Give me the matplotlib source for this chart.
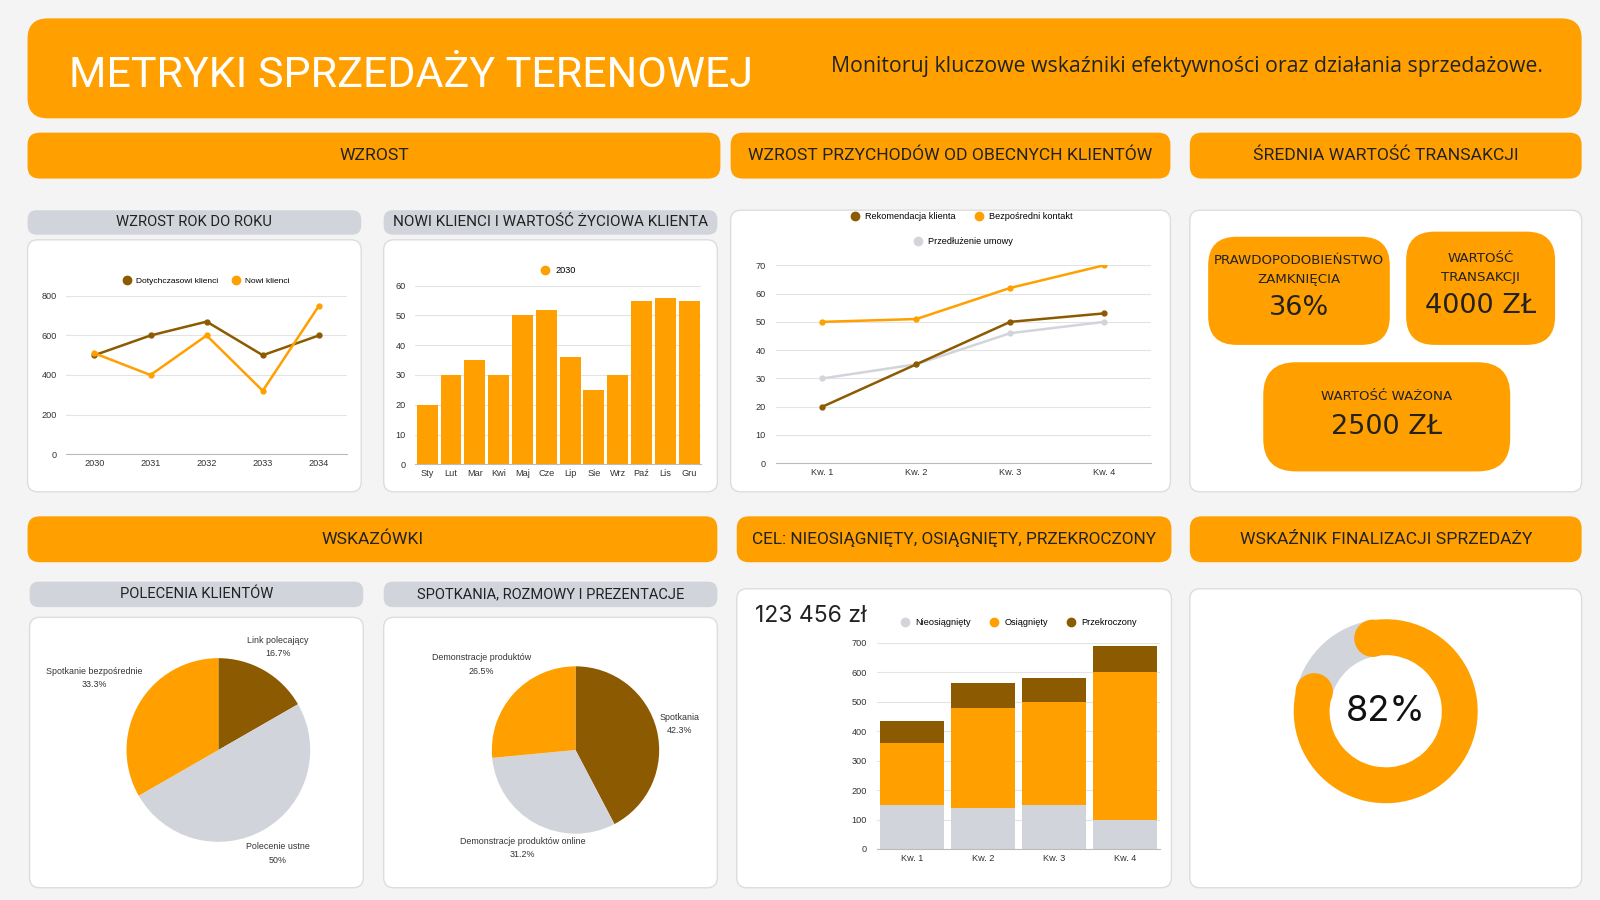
import matplotlib
matplotlib.use("Agg")
import matplotlib.pyplot as plt
from matplotlib.patches import FancyBboxPatch, Circle
from matplotlib.lines import Line2D
import numpy as np

# layout grid units (the figure itself is 1600x900 px)
W, H = 1568, 882
ORANGE = "#FFA000"
BROWN = "#8C5A00"
GRAY = "#D1D5DB"
BG = "#F4F4F4"
TXT = "#222222"

# --- data ---
years = ["2030", "2031", "2032", "2033", "2034"]
existing_clients = [500, 600, 670, 500, 600]
new_clients = [510, 400, 600, 320, 750]

months = ["Sty", "Lut", "Mar", "Kwi", "Maj", "Cze", "Lip", "Sie", "Wrz", "Paź", "Lis", "Gru"]
new_clients_2030 = [20, 30, 35, 30, 50, 52, 36, 25, 30, 55, 56, 55]

quarters = ["Kw. 1", "Kw. 2", "Kw. 3", "Kw. 4"]
rekomendacja = [20, 35, 50, 53]
bezposredni = [50, 51, 62, 70]
przedluzenie = [30, 35, 46, 50]

nieosiagniety = [150, 140, 150, 100]
osiagniety = [210, 340, 350, 500]
przekroczony = [75, 85, 80, 90]

referral_labels = ["Link polecający", "Polecenie ustne", "Spotkanie bezpośrednie"]
referral_share = [16.7, 50, 33.3]
meeting_labels = ["Spotkania", "Demonstracje produktów online", "Demonstracje produktów"]
meeting_share = [42.3, 31.2, 26.5]

close_rate = 82
kpi_probability = "36%"
kpi_deal_value = "4000 ZŁ"
kpi_weighted = "2500 ZŁ"
goal_total = "123 456 zł"

plt.rcParams["font.family"] = ["Liberation Sans", "DejaVu Sans"]

fig = plt.figure(figsize=(16, 9), dpi=100)
fig.patch.set_facecolor(BG)
bg = fig.add_axes([0, 0, 1, 1])
bg.set_xlim(0, W)
bg.set_ylim(H, 0)
bg.axis("off")


def box(x0, y0, x1, y1, color, r=12, edge="none"):
    bg.add_patch(FancyBboxPatch((x0, y0), x1 - x0, y1 - y0,
                                boxstyle=f"round,pad=0,rounding_size={r}",
                                fc=color, ec=edge, lw=1))


def rect(x0, y0, x1, y1):
    return [x0 / W, 1 - y1 / H, (x1 - x0) / W, (y1 - y0) / H]


def banner(x0, y0, x1, y1, text, color=ORANGE, size=12.6, r=12):
    box(x0, y0, x1, y1, color, r)
    bg.text((x0 + x1) / 2, (y0 + y1) / 2, text, ha="center", va="center",
            fontsize=size, color=TXT, family=["Roboto", "DejaVu Sans"])


def card(x0, y0, x1, y1):
    box(x0, y0, x1, y1, "white", 10, edge="#DDDDDD")


def style(ax, size=6.6):
    ax.set_facecolor("none")
    for s in ["top", "right", "left"]:
        ax.spines[s].set_visible(False)
    ax.spines["bottom"].set_color("#BBBBBB")
    ax.tick_params(length=0, labelsize=size, colors="#333333")
    ax.tick_params(axis="y", pad=7)
    ax.yaxis.grid(True, color="#E3E3E3", lw=0.8)
    ax.set_axisbelow(True)


def dot(color):
    return Line2D([], [], marker="o", ls="", color=color, markersize=6)


# --- header ---
box(27, 18, 1550, 116, ORANGE, 20)
bg.text(68, 74, "METRYKI SPRZEDAŻY TERENOWEJ", color="white", fontsize=31,
        va="center", ha="left", family=["Roboto", "DejaVu Sans"])
bg.text(1512, 65, "Monitoruj kluczowe wskaźniki efektywności oraz działania sprzedażowe.",
        color=TXT, fontsize=15.3, va="center", ha="right", family=["Open Sans", "DejaVu Sans"])

# --- section banners ---
banner(27, 130, 706, 175, "WZROST")
banner(716, 130, 1147, 175, "WZROST PRZYCHODÓW OD OBECNYCH KLIENTÓW")
banner(1166, 130, 1550, 175, "ŚREDNIA WARTOŚĆ TRANSAKCJI")
banner(27, 506, 703, 551, "WSKAZÓWKI")
banner(722, 506, 1148, 551, "CEL: NIEOSIĄGNIĘTY, OSIĄGNIĘTY, PRZEKROCZONY", size=12.4)
banner(1166, 506, 1550, 551, "WSKAŹNIK FINALIZACJI SPRZEDAŻY")

banner(27, 206, 354, 230, "WZROST ROK DO ROKU", GRAY, 10.6, 9)
banner(376, 206, 703, 230, "NOWI KLIENCI I WARTOŚĆ ŻYCIOWA KLIENTA", GRAY, 11, 9)
banner(29, 570, 356, 595, "POLECENIA KLIENTÓW", GRAY, 10.6, 9)
banner(376, 570, 703, 595, "SPOTKANIA, ROZMOWY I PREZENTACJE", GRAY, 10.5, 9)

# --- cards ---
card(27, 235, 354, 482)
card(376, 235, 703, 482)
card(716, 206, 1147, 482)
card(1166, 206, 1550, 482)
card(29, 605, 356, 870)
card(376, 605, 703, 870)
card(722, 577, 1148, 870)
card(1166, 577, 1550, 870)

# --- chart 1: year over year ---
ax1 = fig.add_axes(rect(65, 290, 340, 445))
style(ax1)
x = np.arange(len(years))
ax1.plot(x, existing_clients, color=BROWN, lw=1.8, marker="o", ms=3.5)
ax1.plot(x, new_clients, color=ORANGE, lw=1.8, marker="o", ms=3.5)
ax1.set_xticks(x, years)
ax1.set_xlim(-0.5, len(years) - 0.5)
ax1.set_ylim(0, 800)
ax1.set_yticks(range(0, 801, 200))
ax1.legend([dot(BROWN), dot(ORANGE)], ["Dotychczasowi klienci", "Nowi klienci"],
           loc="center", bbox_to_anchor=(200 / W, 1 - 275 / H), bbox_transform=fig.transFigure,
           ncol=2, frameon=False, fontsize=6, handletextpad=0.1, columnspacing=1.2)

# --- chart 2: monthly new clients ---
ax2 = fig.add_axes(rect(407, 280, 687, 455))
style(ax2)
xm = np.arange(len(months))
ax2.bar(xm, new_clients_2030, width=0.88, color=ORANGE)
ax2.set_xticks(xm, months)
ax2.set_xlim(-0.5, len(months) - 0.5)
ax2.set_ylim(0, 60)
ax2.set_yticks(range(0, 61, 10))
ax2.legend([dot(ORANGE)], ["2030"], loc="center",
           bbox_to_anchor=(545 / W, 1 - 265 / H), bbox_transform=fig.transFigure,
           frameon=False, fontsize=6.6, handletextpad=0.1)

# --- chart 3: revenue growth from existing clients ---
ax3 = fig.add_axes(rect(760, 260, 1128, 454))
style(ax3)
xq = np.arange(len(quarters))
ax3.plot(xq, przedluzenie, color=GRAY, lw=1.8, marker="o", ms=3.5)
ax3.plot(xq, rekomendacja, color=BROWN, lw=1.8, marker="o", ms=3.5)
ax3.plot(xq, bezposredni, color=ORANGE, lw=1.8, marker="o", ms=3.5)
ax3.set_xticks(xq, quarters)
ax3.set_xlim(-0.5, len(quarters) - 0.5)
ax3.set_ylim(0, 70)
ax3.set_yticks(range(0, 71, 10))
leg = ax3.legend([dot(BROWN), dot(ORANGE)], ["Rekomendacja klienta", "Bezpośredni kontakt"],
                 loc="center", bbox_to_anchor=(940 / W, 1 - 212 / H), bbox_transform=fig.transFigure,
                 ncol=2, frameon=False, fontsize=6.6, handletextpad=0.1, columnspacing=1.5)
ax3.add_artist(leg)
ax3.legend([dot(GRAY)], ["Przedłużenie umowy"], loc="center",
           bbox_to_anchor=(942 / W, 1 - 237 / H), bbox_transform=fig.transFigure,
           frameon=False, fontsize=6.6, handletextpad=0.1)

# --- chart 4: goal stacked bars ---
ax4 = fig.add_axes(rect(859, 630, 1137, 832))
style(ax4)
b1 = np.array(nieosiagniety)
b2 = b1 + np.array(osiagniety)
ax4.bar(xq, nieosiagniety, width=0.9, color=GRAY)
ax4.bar(xq, osiagniety, width=0.9, bottom=b1, color=ORANGE)
ax4.bar(xq, przekroczony, width=0.9, bottom=b2, color=BROWN)
ax4.set_xticks(xq, quarters)
ax4.set_xlim(-0.5, len(quarters) - 0.5)
ax4.set_ylim(0, 700)
ax4.set_yticks(range(0, 701, 100))
ax4.legend([dot(GRAY), dot(ORANGE), dot(BROWN)], ["Nieosiągnięty", "Osiągnięty", "Przekroczony"],
           loc="center", bbox_to_anchor=(996 / W, 1 - 610 / H), bbox_transform=fig.transFigure,
           ncol=3, frameon=False, fontsize=6.6, handletextpad=0.1, columnspacing=1.5)
bg.text(740, 604, goal_total, fontsize=16.5, ha="left", va="center", color=TXT,
        family=["Inter", "DejaVu Sans"])


# --- pies ---
def pie_chart(cx, cy, r, labels, shares, dists):
    half = r * 1.7
    ax = fig.add_axes(rect(cx - half, cy - half, cx + half, cy + half))
    wedges, _ = ax.pie(shares, colors=[BROWN, GRAY, ORANGE], startangle=90,
                       counterclock=False, radius=1)
    ax.set_xlim(-1.7, 1.7)
    ax.set_ylim(-1.7, 1.7)
    ax.set_aspect("equal")
    ax.axis("off")
    for w, lab, val, d in zip(wedges, labels, shares, dists):
        ang = np.deg2rad((w.theta1 + w.theta2) / 2)
        ax.text(d * np.cos(ang), d * np.sin(ang), f"{lab}\n{val:g}%", ha="center", va="center",
                fontsize=6.4, color="#333333", linespacing=1.6)


pie_chart(214, 735, 90, referral_labels, referral_share, [1.3, 1.3, 1.56])
pie_chart(564, 735, 82, meeting_labels, meeting_share, [1.28, 1.33, 1.52])

# --- donut ---
axd = fig.add_axes(rect(1358 - 110, 697 - 110, 1358 + 110, 697 + 110))
ring = 0.39
wd, _ = axd.pie([close_rate, 100 - close_rate], colors=[ORANGE, GRAY], startangle=100,
                counterclock=False, wedgeprops=dict(width=ring))
axd.set_xlim(-1.22, 1.22)
axd.set_ylim(-1.22, 1.22)
axd.set_aspect("equal")
axd.axis("off")
mid = 1 - ring / 2
for ang in (wd[0].theta1, wd[0].theta2):
    a = np.deg2rad(ang)
    axd.add_patch(Circle((mid * np.cos(a), mid * np.sin(a)), ring / 2, color=ORANGE, zorder=3))
axd.text(0, 0, f"{close_rate}%", ha="center", va="center", fontsize=26, color="#111111",
         family=["Inter", "DejaVu Sans"])


# --- KPI boxes ---
def kpi(x0, y0, x1, y1, title, value, ty, vy, r=28):
    box(x0, y0, x1, y1, ORANGE, r)
    cx = (x0 + x1) / 2
    bg.text(cx, ty, title, ha="center", va="center", fontsize=9.6, color=TXT,
            linespacing=1.6, family=["DejaVu Sans"])
    bg.text(cx, vy, value, ha="center", va="center", fontsize=19.5, color=TXT,
            family=["DejaVu Sans"])


kpi(1184, 232, 1362, 338, "PRAWDOPODOBIEŃSTWO\nZAMKNIĘCIA", kpi_probability, 265, 302)
kpi(1378, 227, 1524, 338, "WARTOŚĆ\nTRANSAKCJI", kpi_deal_value, 263, 300)
kpi(1238, 355, 1480, 462, "WARTOŚĆ WAŻONA", kpi_weighted, 389, 418, r=32)

fig.savefig("out.png", dpi=100, facecolor=BG)
